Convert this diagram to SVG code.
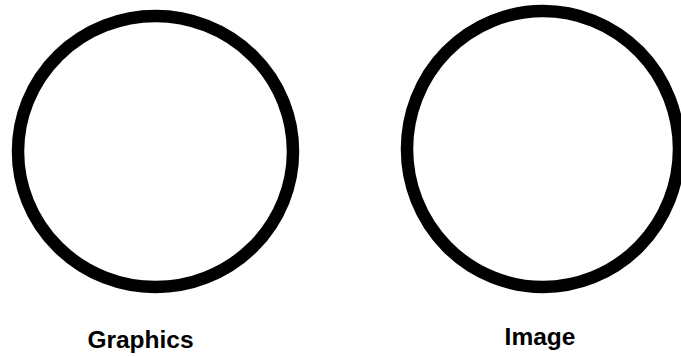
<svg xmlns="http://www.w3.org/2000/svg" width="681" height="357" viewBox="0 0 681 357">
<style>
.ring{fill:none;stroke:#000;stroke-width:12.5}
.lbl{font-family:"Liberation Sans",Arial,sans-serif;font-weight:bold;font-size:24.5px;fill:#000;text-anchor:middle}
</style>
<rect width="681" height="357" fill="#fff"/>
<g id="graphics">
<ellipse class="ring" cx="155.5" cy="151.5" rx="137.5" ry="135.5"/>
<text class="lbl" x="140.5" y="348">Graphics</text>
</g>
<g id="image">
<ellipse class="ring" cx="543" cy="149" rx="136" ry="138" stroke-width="12"/>
<text class="lbl" x="540" y="345">Image</text>
</g>
<g id="connectors"/>
</svg>
